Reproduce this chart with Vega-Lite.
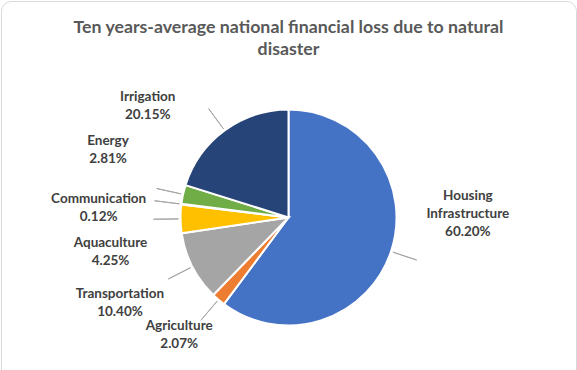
{
  "$schema": "https://vega.github.io/schema/vega-lite/v6.json",
  "width": 575,
  "height": 433,
  "autosize": {"type": "none"},
  "padding": {"left": 1, "top": 1, "right": 1, "bottom": 0},
  "background": "white",
  "view": {"stroke": "#D9D9D9", "strokeWidth": 1, "cornerRadius": 10},
  "config": {"view": {"stroke": "#D9D9D9", "strokeWidth": 1, "cornerRadius": 10}},
  "title": {
    "text": ["Ten years-average national financial loss due to natural", "disaster"],
    "font": "Lato", "fontSize": 17.75, "fontWeight": "bold", "color": "#595959",
    "anchor": "middle", "orient": "top", "baseline": "top", "offset": -58, "lineHeight": 22
  },
  "data": {
    "values": [
      {"category": "Housing Infrastructure", "value": 60.20, "idx": 1},
      {"category": "Agriculture", "value": 2.07, "idx": 2},
      {"category": "Transportation", "value": 10.40, "idx": 3},
      {"category": "Aquaculture", "value": 4.25, "idx": 4},
      {"category": "Communication", "value": 0.12, "idx": 5},
      {"category": "Energy", "value": 2.81, "idx": 6},
      {"category": "Irrigation", "value": 20.15, "idx": 7}
    ]
  },
  "transform": [
    {"stack": "value", "groupby": [], "sort": [{"field": "idx", "order": "ascending"}], "as": ["v0", "v1"]},
    {"calculate": "(datum.v0 + datum.v1) / 2", "as": "mid"},
    {"calculate": "datum.category + ' ' + format(datum.value, '.2f') + '%'", "as": "label"}
  ],
  "layer": [
    {
      "mark": {"type": "arc", "outerRadius": 108, "stroke": "white", "strokeWidth": 2},
      "encoding": {
        "theta": {"field": "v0", "type": "quantitative", "scale": {"domain": [0, 100]}},
        "theta2": {"field": "v1"},
        "color": {
          "field": "category", "type": "nominal", "legend": null,
          "scale": {
            "domain": ["Housing Infrastructure", "Agriculture", "Transportation", "Aquaculture", "Communication", "Energy", "Irrigation"],
            "range": ["#4472C4", "#ED7D31", "#A5A5A5", "#FFC000", "#5B9BD5", "#70AD47", "#264478"]
          }
        }
      }
    },
    {
      "mark": {"type": "arc", "innerRadius": 110, "outerRadius": 135, "fillOpacity": 0, "stroke": "#A6A6A6", "strokeWidth": 1},
      "encoding": {
        "theta": {"field": "mid", "type": "quantitative"},
        "theta2": {"field": "mid"}
      }
    },
    {
      "transform": [{"filter": "datum.idx == 1"}],
      "mark": {"type": "text", "radius": 150, "dx": 37, "dy": -69, "lineBreak": " ", "font": "Lato", "fontSize": 13.5, "fontWeight": "bold", "fill": "#404040", "lineHeight": 18, "align": "center", "baseline": "middle"},
      "encoding": {"theta": {"field": "mid", "type": "quantitative"}, "text": {"field": "label"}}
    },
    {
      "transform": [{"filter": "datum.idx == 2"}],
      "mark": {"type": "text", "radius": 150, "dx": -12, "dy": -6, "lineBreak": " ", "font": "Lato", "fontSize": 13.5, "fontWeight": "bold", "fill": "#404040", "lineHeight": 18, "align": "center", "baseline": "middle"},
      "encoding": {"theta": {"field": "mid", "type": "quantitative"}, "text": {"field": "label"}}
    },
    {
      "transform": [{"filter": "datum.idx == 3"}],
      "mark": {"type": "text", "radius": 150, "dx": -35, "dy": 8, "lineBreak": " ", "font": "Lato", "fontSize": 13.5, "fontWeight": "bold", "fill": "#404040", "lineHeight": 18, "align": "center", "baseline": "middle"},
      "encoding": {"theta": {"field": "mid", "type": "quantitative"}, "text": {"field": "label"}}
    },
    {
      "transform": [{"filter": "datum.idx == 4"}],
      "mark": {"type": "text", "radius": 150, "dx": -28, "dy": 24, "lineBreak": " ", "font": "Lato", "fontSize": 13.5, "fontWeight": "bold", "fill": "#404040", "lineHeight": 18, "align": "center", "baseline": "middle"},
      "encoding": {"theta": {"field": "mid", "type": "quantitative"}, "text": {"field": "label"}}
    },
    {
      "transform": [{"filter": "datum.idx == 5"}],
      "mark": {"type": "text", "radius": 150, "dx": -41, "dy": 0, "lineBreak": " ", "font": "Lato", "fontSize": 13.5, "fontWeight": "bold", "fill": "#404040", "lineHeight": 18, "align": "center", "baseline": "middle"},
      "encoding": {"theta": {"field": "mid", "type": "quantitative"}, "text": {"field": "label"}}
    },
    {
      "transform": [{"filter": "datum.idx == 6"}],
      "mark": {"type": "text", "radius": 150, "dx": -34, "dy": -44, "lineBreak": " ", "font": "Lato", "fontSize": 13.5, "fontWeight": "bold", "fill": "#404040", "lineHeight": 18, "align": "center", "baseline": "middle"},
      "encoding": {"theta": {"field": "mid", "type": "quantitative"}, "text": {"field": "label"}}
    },
    {
      "transform": [{"filter": "datum.idx == 7"}],
      "mark": {"type": "text", "radius": 150, "dx": -52, "dy": 0, "lineBreak": " ", "font": "Lato", "fontSize": 13.5, "fontWeight": "bold", "fill": "#404040", "lineHeight": 18, "align": "center", "baseline": "middle"},
      "encoding": {"theta": {"field": "mid", "type": "quantitative"}, "text": {"field": "label"}}
    }
  ]
}
